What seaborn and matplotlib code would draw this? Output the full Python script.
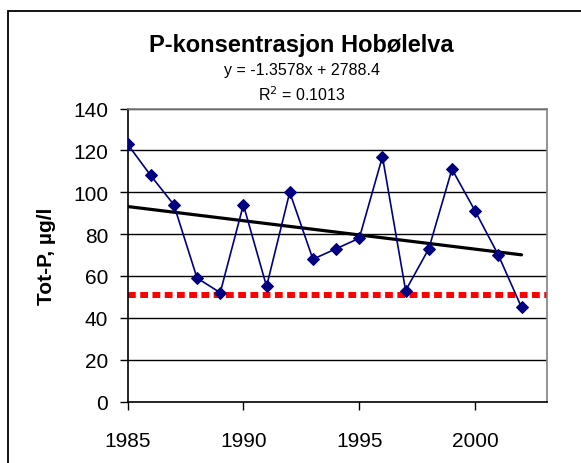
import numpy as np
import pandas as pd
import matplotlib
matplotlib.use("Agg")
import matplotlib.pyplot as plt
import seaborn as sns
from matplotlib.patches import Rectangle

# data
years = [1985, 1986, 1987, 1988, 1989, 1990, 1991, 1992, 1993,
         1994, 1995, 1996, 1997, 1998, 1999, 2000, 2001, 2002]
tot_p = [123, 108, 94, 59, 52, 94, 55, 100, 68,
         73, 78, 117, 53, 73, 111, 91, 70, 45]
limit = 51
slope, intercept = -1.3578, 2788.4
trend_years = [1985, 2002]

df = pd.DataFrame({"year": years, "totp": tot_p})
trend = pd.DataFrame({"year": trend_years,
                      "totp": [slope * y + intercept for y in trend_years]})

sns.set_style("white")
plt.rcParams["font.family"] = ["Liberation Sans", "DejaVu Sans"]
plt.rcParams.update({"text.color": "black", "axes.labelcolor": "black",
                     "xtick.color": "black", "ytick.color": "black"})

fig = plt.figure(figsize=(5.81, 4.64), dpi=100)
ax = fig.add_axes([127.5 / 581, 1 - 402.5 / 464, (547 - 127.5) / 581, (402.5 - 109.5) / 464])

# outer chart frame (right/bottom run off the picture)
fig.patches.append(Rectangle((8 / 581, -0.1), 1.2, 1 - 11.5 / 464 + 0.1,
                             transform=fig.transFigure, fill=False,
                             edgecolor="black", linewidth=1.3))

for v in range(20, 141, 20):
    ax.axhline(v, color="black", linewidth=1.0, zorder=1)

ax.axhline(limit, color="red", linewidth=4.3, linestyle=(0, (1.3, 0.75)), zorder=2)

sns.lineplot(data=trend, x="year", y="totp", color="black", linewidth=2.3, ax=ax, zorder=3)
sns.lineplot(data=df, x="year", y="totp", color="#000080", linewidth=1.2,
             marker="D", markersize=6.5, markeredgecolor="#000080", ax=ax, zorder=4)

ax.set_xlim(1985, 2003.1)
ax.set_ylim(0, 140)
ax.set_xticks([1985, 1990, 1995, 2000])
ax.set_yticks(range(0, 141, 20))
ax.tick_params(axis="both", labelsize=15, direction="out", length=6, width=1,
               colors="black", left=True, bottom=True)
ax.tick_params(axis="x", pad=15)
ax.tick_params(axis="y", pad=8)
ax.set_xlabel("")
ax.set_ylabel("Tot-P, µg/l", fontsize=15, fontweight="bold", labelpad=12)

for s in ["left", "bottom"]:
    ax.spines[s].set_color("black")
    ax.spines[s].set_linewidth(1.2)
for s in ["top", "right"]:
    ax.spines[s].set_color("#808080")
    ax.spines[s].set_linewidth(1.2)

fig.text(301.5 / 581, 1 - 51.7 / 464, "P-konsentrasjon Hobølelva", ha="center",
         va="baseline", fontsize=17, fontweight="bold")
fig.text(301.5 / 581, 1 - 75 / 464, "y = -1.3578x + 2788.4", ha="center",
         va="baseline", fontsize=11.5)
fig.text(301.5 / 581, 1 - 101 / 464, "R$^2$ = 0.1013", ha="center",
         va="baseline", fontsize=11.5)

fig.savefig("out.png", dpi=100)
